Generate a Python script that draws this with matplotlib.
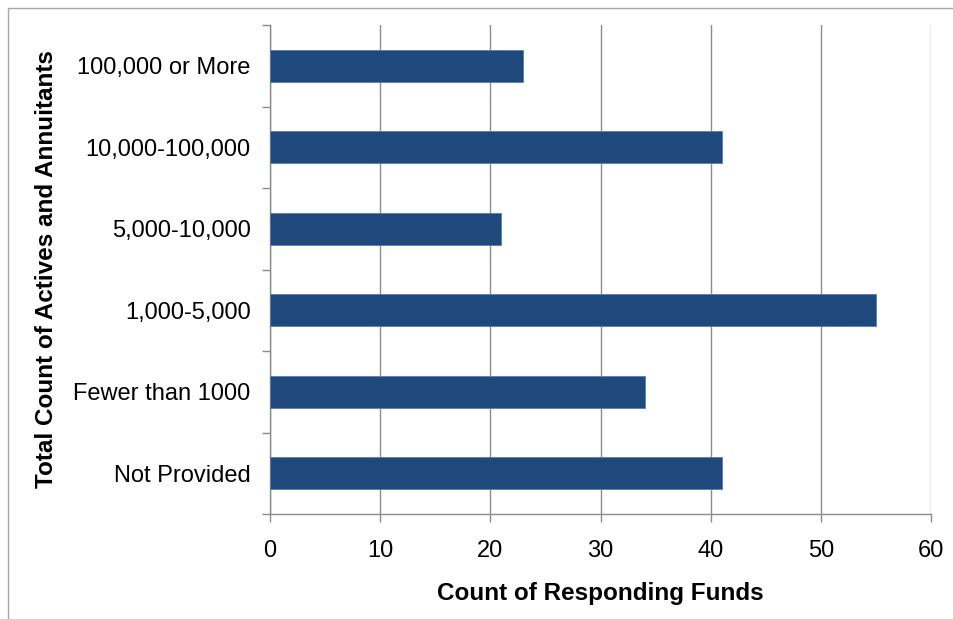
import matplotlib.pyplot as plt
from matplotlib.patches import Rectangle

# Data (bottom to top)
categories = ["Not Provided", "Fewer than 1000", "1,000-5,000",
              "5,000-10,000", "10,000-100,000", "100,000 or More"]
fund_counts = [41, 34, 55, 21, 41, 23]
x_ticks = [0, 10, 20, 30, 40, 50, 60]

BAR_COLOR = "#1F497D"
AXIS_GRAY = "#8C8C8C"

plt.rcParams["font.family"] = ["Liberation Sans", "DejaVu Sans"]

fig = plt.figure(figsize=(9.54, 6.19), dpi=100)
ax = fig.add_axes([270 / 954, 1 - 514 / 619, 661 / 954, 489 / 619])

# Thin chart-area border (only top and left edges visible in the crop)
fig.patches.append(Rectangle((8 / 954, -0.1), 1.2, (619 - 8) / 619 + 0.1,
                             transform=fig.transFigure, fill=False,
                             edgecolor="#A6A6A6", linewidth=1.0))

ypos = list(range(len(categories)))
ax.barh(ypos, fund_counts, height=0.39, color=BAR_COLOR,
        edgecolor="#5B7FAE", linewidth=0.6, zorder=3)

ax.set_xlim(0, 60)
ax.set_ylim(-0.5, len(categories) - 0.5)
ax.set_xticks(x_ticks)
ax.set_xticklabels([str(t) for t in x_ticks], fontsize=17)

# Category labels centred, tick marks on boundaries
ax.set_yticks([y - 0.5 for y in range(len(categories) + 1)])
ax.set_yticklabels([])
ax.set_yticks(ypos, minor=True)
ax.set_yticklabels(categories, minor=True, fontsize=17)
ax.tick_params(axis="y", which="minor", length=0, pad=14)
ax.tick_params(axis="y", which="major", length=6, color=AXIS_GRAY, width=1)
ax.tick_params(axis="x", length=6, color=AXIS_GRAY, width=1, pad=13)

ax.grid(axis="x", color=AXIS_GRAY, linewidth=1, zorder=0)
for side in ("top", "right"):
    ax.spines[side].set_visible(False)
for side in ("left", "bottom"):
    ax.spines[side].set_color(AXIS_GRAY)
    ax.spines[side].set_linewidth(1)

ax.set_xlabel("Count of Responding Funds", fontsize=17.5, fontweight="bold", labelpad=14)
ax.set_ylabel("Total Count of Actives and Annuitants", fontsize=17.5,
              fontweight="bold", labelpad=11)

fig.savefig("out.png", dpi=100, facecolor="white")
